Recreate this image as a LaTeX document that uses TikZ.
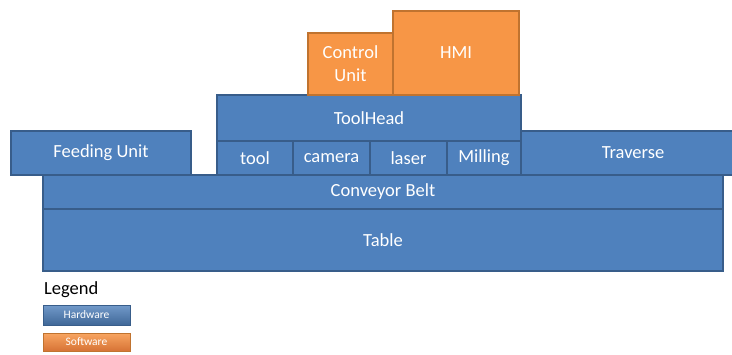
\documentclass[tikz,border=0pt]{standalone}
\usepackage{fontspec}
\setmainfont{Carlito}
\definecolor{hwfill}{HTML}{4F81BD}
\definecolor{hwline}{HTML}{385D8A}
\definecolor{swfill}{HTML}{F79646}
\definecolor{swline}{HTML}{C0732F}
\tikzset{
  blk/.style={rectangle, inner sep=0pt, outer sep=0pt, line width=1.4pt,
    text=white, font=\fontsize{18.5}{23}\selectfont, align=center},
  hw/.style={blk, draw=hwline, fill=hwfill},
  sw/.style={blk, draw=swline, fill=swfill},
  keybox/.style={rectangle, inner sep=0pt, outer sep=0pt, line width=0.6pt,
    text=white, font=\fontsize{11.5}{13}\selectfont,
    minimum width=87pt},
}
\begin{document}
\begin{tikzpicture}[x=1pt,y=-1pt]
\useasboundingbox (0,0) rectangle (732,354);
% base layers
\node[hw, minimum width=680pt, minimum height=62pt] (table) at (383,240) {Table};
\node[hw, minimum width=680pt, minimum height=34pt] (belt) at (383,192) {Conveyor Belt};
% units sitting on the belt
\node[hw, minimum width=180pt, minimum height=44pt] (feed) at (101,153) {Feeding Unit};
\node[hw, minimum width=224pt, minimum height=44pt] (trav) at (633,153) {Traverse};
% tool head and its modules
\node[hw, minimum width=76pt, minimum height=34pt] (tool) at (255,158) {tool};
\node[hw, minimum width=77pt, minimum height=34pt] (cam) at (331.5,158) {camera};
\node[hw, minimum width=77pt, minimum height=34pt] (laser) at (408.5,158) {laser};
\node[hw, minimum width=74pt, minimum height=34pt] (mill) at (484,158) {Milling};
\node[hw, minimum width=304pt, minimum height=46pt] (head) at (369,118) {ToolHead};
% software on top
\node[sw, minimum width=85pt, minimum height=62pt] (ctrl) at (350.5,64) {Control\\Unit};
\node[sw, minimum width=126pt, minimum height=84pt] (hmi) at (456,53) {HMI};
% legend
\node[anchor=west, inner sep=0pt, font=\fontsize{18.5}{22}\selectfont] (leg) at (44,290) {Legend};
\node[keybox, minimum height=20pt, draw=hwline, top color=hwfill!80!white, bottom color=hwfill!80!black] (khw) at (86.5,315) {Hardware};
\node[keybox, minimum height=18pt, draw=swline, top color=swfill!85!white, bottom color=swfill!85!black!90!red] (ksw) at (86.5,342) {Software};
\end{tikzpicture}
\end{document}
